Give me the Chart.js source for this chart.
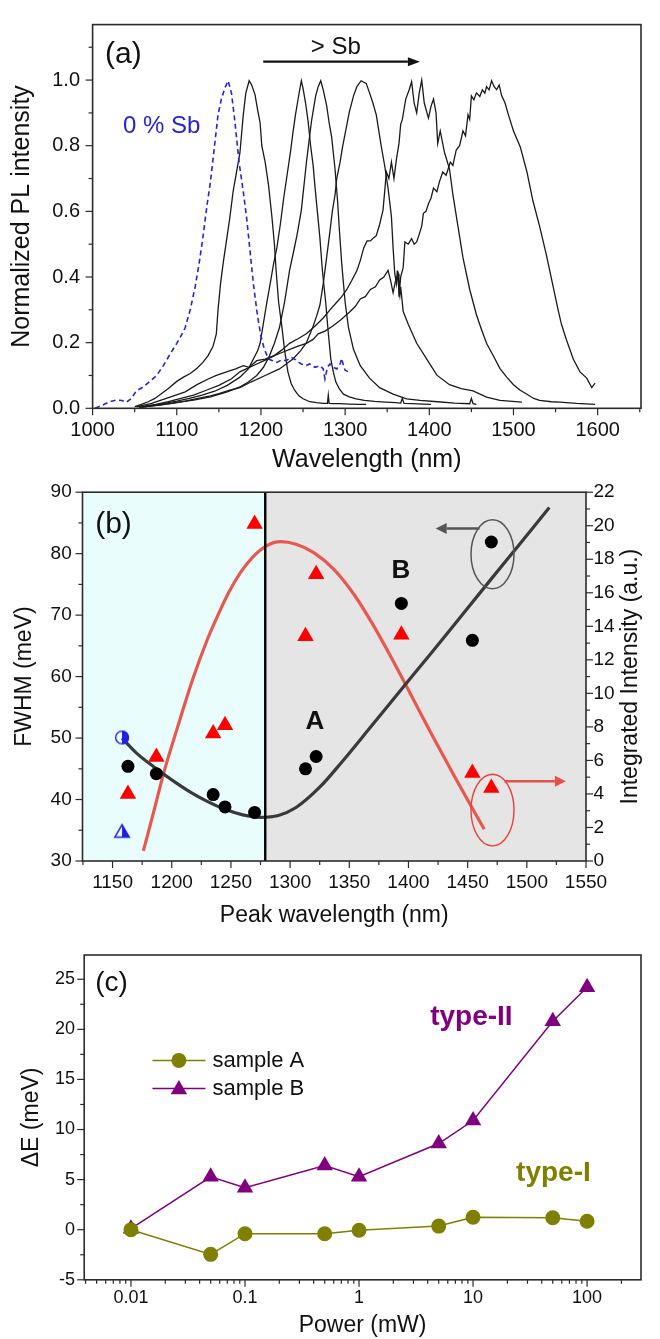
<!DOCTYPE html>
<html><head><meta charset="utf-8">
<script src="https://cdn.jsdelivr.net/npm/chart.js@4.4.1/dist/chart.umd.min.js"></script>
<style>
html,body{margin:0;padding:0;background:#fff;}
#wrap{position:relative;width:660px;height:1339px;overflow:hidden;background:#fff;}
canvas{position:absolute;left:0;}
</style></head><body>
<div id="wrap">
<canvas id="ca" width="660" height="478" style="top:0px"></canvas>
<canvas id="cb" width="660" height="465" style="top:470px"></canvas>
<canvas id="cc" width="660" height="404" style="top:935px"></canvas>
</div>
<script>
// ---------------- Panel (a) data: normalized PL spectra ----------------
const sb0Wl = [1003,1012,1020,1028,1035,1040,1046,1052,1060,1068,1076,1084,1092,1100,1106,1110,1116,1122,1127,1131,1136,1140,1144,1149,1153,1157,1161,1165,1169,1174,1179,1183,1187,1191,1196,1200,1204,1209,1214,1219,1225,1230,1236,1240,1245,1248,1253,1258,1264,1270,1274,1276,1279,1282,1286,1290,1294,1296,1298,1300,1304];
const sb0I  = [0,0.01,0.02,0.025,0.024,0.018,0.03,0.053,0.065,0.082,0.1,0.13,0.165,0.198,0.225,0.246,0.30,0.372,0.449,0.52,0.62,0.69,0.78,0.894,0.942,0.975,0.998,0.96,0.874,0.75,0.66,0.58,0.48,0.38,0.28,0.22,0.18,0.15,0.145,0.14,0.148,0.145,0.155,0.15,0.14,0.135,0.13,0.135,0.125,0.13,0.12,0.09,0.125,0.135,0.125,0.12,0.135,0.152,0.13,0.116,0.111];

const pl1187Wl = [1050,1058,1066,1074,1082,1090,1100,1108,1116,1124,1131,1137,1143,1147,1149,1152,1155,1159,1163,1167,1171,1175,1179,1182,1186,1189,1193,1196,1199,1201,1205,1209,1213,1216,1218,1221,1225,1228,1232,1236,1240,1245,1250,1258,1266,1274,1279,1280,1281,1286,1294,1305,1315,1325];
const pl1187I  = [0.005,0.012,0.02,0.03,0.045,0.06,0.082,0.095,0.106,0.122,0.14,0.16,0.188,0.227,0.30,0.38,0.44,0.51,0.58,0.662,0.72,0.778,0.894,0.96,0.998,0.985,0.955,0.91,0.87,0.80,0.75,0.68,0.584,0.5,0.42,0.323,0.246,0.179,0.111,0.075,0.055,0.038,0.029,0.02,0.017,0.015,0.015,0.04,0.015,0.014,0.014,0.013,0.012,0.012];

const pl1248Wl = [1058,1070,1085,1100,1115,1130,1145,1160,1175,1185,1191,1196,1199,1203,1207,1211,1215,1219,1223,1227,1231,1235,1238,1241,1244,1246,1248,1250,1253,1256,1259,1262,1264,1267,1270,1273,1277,1280,1283,1286,1289,1293,1298,1305,1313,1323,1335,1348,1360,1366,1368,1370,1380,1392,1402];
const pl1248I  = [0.003,0.008,0.015,0.022,0.03,0.04,0.052,0.07,0.095,0.12,0.15,0.175,0.198,0.26,0.323,0.38,0.44,0.49,0.56,0.64,0.71,0.78,0.84,0.894,0.94,0.97,0.998,0.975,0.93,0.875,0.8,0.74,0.68,0.6,0.52,0.42,0.32,0.23,0.15,0.11,0.08,0.06,0.043,0.035,0.029,0.024,0.021,0.019,0.017,0.016,0.03,0.015,0.014,0.013,0.012];

const pl1271Wl = [1055,1080,1100,1120,1140,1160,1175,1185,1195,1203,1210,1216,1222,1228,1234,1239,1243,1248,1254,1260,1265,1268,1271,1274,1278,1281,1284,1288,1291,1293,1296,1300,1304,1310,1318,1329,1341,1357,1373,1389,1410,1430,1448,1450,1452,1456];
const pl1271I  = [0.003,0.01,0.018,0.025,0.035,0.05,0.065,0.08,0.1,0.125,0.159,0.198,0.246,0.323,0.42,0.48,0.53,0.604,0.749,0.874,0.952,0.98,0.998,0.97,0.923,0.87,0.826,0.729,0.633,0.55,0.44,0.323,0.246,0.179,0.13,0.092,0.063,0.043,0.029,0.024,0.02,0.016,0.014,0.03,0.014,0.012];

const pl1319Wl = [1058,1075,1095,1110,1125,1140,1150,1163,1175,1188,1205,1222,1238,1247,1254,1262,1266,1270,1274,1278,1282,1285,1288,1290,1294,1297,1301,1305,1310,1314,1319,1325,1329,1333,1337,1343,1347,1351,1355,1357,1359,1361,1362,1364,1365,1366,1369,1375,1385,1397,1409,1424,1438,1452,1468,1484,1510];
const pl1319I  = [0.004,0.009,0.015,0.022,0.03,0.038,0.045,0.055,0.063,0.08,0.1,0.12,0.15,0.175,0.2,0.25,0.28,0.314,0.38,0.459,0.54,0.604,0.65,0.70,0.75,0.797,0.85,0.903,0.952,0.98,0.998,0.99,0.961,0.93,0.894,0.797,0.739,0.671,0.584,0.488,0.41,0.38,0.42,0.36,0.343,0.37,0.295,0.256,0.198,0.15,0.101,0.072,0.06,0.053,0.034,0.024,0.019];

const pl1390Wl = [1055,1075,1090,1105,1120,1135,1150,1165,1175,1185,1195,1205,1215,1225,1234,1244,1254,1264,1274,1282,1290,1296,1302,1308,1314,1318,1322,1326,1330,1334,1337,1341,1345,1347,1349,1352,1355,1358,1361,1364,1366,1368,1372,1376,1379,1382,1385,1388,1391,1394,1399,1402,1405,1408,1410,1413,1418,1424,1428,1434,1440,1448,1456,1462,1468,1476,1484,1492,1500,1508,1516,1524,1531,1545,1555,1575,1597];
const pl1390I  = [0.004,0.012,0.02,0.03,0.04,0.055,0.07,0.09,0.111,0.123,0.135,0.147,0.159,0.178,0.198,0.212,0.227,0.25,0.275,0.3,0.323,0.34,0.362,0.39,0.42,0.45,0.488,0.51,0.51,0.52,0.526,0.56,0.604,0.66,0.72,0.7,0.75,0.7,0.76,0.807,0.865,0.88,0.942,0.97,0.995,0.93,0.9,0.96,1.0,0.93,0.884,0.92,0.942,0.9,0.807,0.845,0.78,0.729,0.652,0.555,0.459,0.362,0.285,0.24,0.198,0.16,0.121,0.095,0.072,0.055,0.043,0.03,0.024,0.02,0.019,0.015,0.012];

const pl1472Wl = [1052,1070,1092,1110,1124,1138,1147,1160,1170,1179,1186,1195,1205,1215,1225,1235,1245,1254,1262,1268,1276,1285,1295,1306,1312,1318,1324,1330,1336,1341,1346,1351,1354,1357,1360,1363,1364,1366,1369,1371,1375,1379,1382,1385,1388,1391,1393,1396,1399,1402,1405,1409,1412,1416,1420,1425,1428,1432,1436,1440,1443,1446,1448,1450,1453,1456,1460,1463,1466,1468,1471,1474,1477,1480,1483,1486,1490,1494,1500,1508,1516,1523,1531,1539,1547,1553,1557,1563,1571,1579,1587,1593,1597];
const pl1472I  = [0.004,0.015,0.034,0.05,0.072,0.09,0.1,0.112,0.12,0.13,0.125,0.145,0.15,0.16,0.17,0.18,0.19,0.198,0.21,0.227,0.235,0.25,0.27,0.295,0.31,0.333,0.34,0.362,0.37,0.391,0.4,0.42,0.39,0.352,0.39,0.41,0.34,0.4,0.43,0.507,0.5,0.517,0.5,0.507,0.53,0.555,0.594,0.6,0.623,0.64,0.671,0.66,0.69,0.72,0.71,0.75,0.74,0.787,0.8,0.845,0.83,0.894,0.88,0.952,0.94,0.961,0.95,0.97,0.96,0.98,0.97,0.998,0.98,0.971,0.985,0.952,0.93,0.894,0.845,0.797,0.72,0.633,0.555,0.468,0.372,0.3,0.256,0.208,0.15,0.111,0.092,0.063,0.077];

const aXMajor = [1000,1100,1200,1300,1400,1500,1600];
const aXLabels = ['1000','1100','1200','1300','1400','1500','1600'];
const aXMinor = [1050,1150,1250,1350,1450,1550,1650];
const aYMajor = [0,0.2,0.4,0.6,0.8,1.0];
const aYLabels = ['0.0','0.2','0.4','0.6','0.8','1.0'];
const aYMinor = [0.1,0.3,0.5,0.7,0.9,1.1];

// ---------------- Panel (b) data ----------------
const bPeakWl   = [1163,1187,1235,1245,1270,1313,1322,1394,1454,1470];
const bFwhm     = [45.4,44.2,40.8,38.8,37.9,45.0,47.0,71.9,65.9,81.9];
const bIntensity= [4.0,6.2,7.6,8.1,20.1,13.4,17.1,13.5,5.25,4.35];
const bRefWl    = [1158];
const bRefFwhm  = [50.1];
const bRefInt   = [1.75];
const bFitFwhmWl = [1158,1170,1185,1200,1215,1230,1245,1260,1275,1290,1305,1325,1345,1368,1396,1420,1446,1470,1492,1519];
const bFitFwhm   = [50.0,47.6,45.3,43.2,41.3,39.7,38.4,37.5,37.1,37.4,38.7,42.0,46.4,51.8,58.4,64.0,70.2,75.9,81.1,87.5];
const bFitIntWl  = [1176,1185,1193,1205,1218,1230,1238,1248,1258,1268,1280,1292,1305,1320,1337,1354,1370,1385,1400,1420,1440,1464];
const bFitInt    = [0.6,3.0,5.2,8.0,10.9,13.2,14.5,16.0,17.2,18.1,18.8,19.05,18.9,18.4,17.4,15.9,14.1,12.2,10.2,7.5,4.9,1.9];
const bDivideWl = 1279;

const bXMajor = [1150,1200,1250,1300,1350,1400,1450,1500,1550];
const bXLabels = ['1150','1200','1250','1300','1350','1400','1450','1500','1550'];
const bXMinor = [1125,1175,1225,1275,1325,1375,1425,1475,1525];
const bYMajor = [30,40,50,60,70,80,90];
const bYLabels = ['30','40','50','60','70','80','90'];
const bYMinor = [35,45,55,65,75,85];
const bY2Major = [0,2,4,6,8,10,12,14,16,18,20,22];
const bY2Labels = ['0','2','4','6','8','10','12','14','16','18','20','22'];
const bY2Minor = [1,3,5,7,9,11,13,15,17,19,21];

// ---------------- Panel (c) data ----------------
const cPower   = [0.01,0.05,0.1,0.5,1,5,10,50,100];
const cSampleA = [0,-2.46,-0.4,-0.4,-0.05,0.36,1.25,1.2,0.85];
const cSampleB = [0.1,5.28,4.19,6.4,5.28,8.6,10.9,20.8,24.2];

const cXMajor = [0.01,0.1,1,10,100];
const cXLabels = ['0.01','0.1','1','10','100'];
const cXDecades = [0.001,0.01,0.1,1,10,100];
const cXMult = [2,3,4,5,6,7,8,9];
const cYMajor = [-5,0,5,10,15,20,25];
const cYLabels = ['-5','0','5','10','15','20','25'];
const cYMinor = [-2.5,2.5,7.5,12.5,17.5,22.5];

// ---------------- helpers ----------------
const FONT = "'Liberation Sans', Arial, Helvetica, sans-serif";
Chart.defaults.font.family = FONT;
Chart.defaults.color = '#111';

function zip(xs, ys){ return xs.map((x,i)=>({x:x, y:ys[i]})); }
function tickSet(majors, labels, minors){
  return function(scale){
    const t = [];
    majors.forEach((v,i)=>t.push({value:v, major:true, txt:labels[i]}));
    minors.forEach(v=>t.push({value:v, major:false, txt:''}));
    t.sort((a,b)=>a.value-b.value);
    scale.ticks = t;
  };
}
function tickLabel(v, i, ticks){ return (ticks[i] && ticks[i].txt) ? ticks[i].txt : ''; }
function axis(o){
  return {
    type: o.type || 'linear',
    position: o.position,
    min: o.min, max: o.max,
    grid: {display:false, drawTicks:false, drawOnChartArea:false},
    border: {display:false},
    ticks: {autoSkip:false, maxRotation:0, minRotation:0, padding:o.pad, font:{size:o.tickSize}, color:'#111', callback: tickLabel},
    title: o.title ? {display:true, text:o.title, font:{size:o.titleSize}, color:'#111', padding:o.titlePad} : {display:false},
    afterBuildTicks: tickSet(o.majors, o.labels, o.minors),
    afterFit: o.fit
  };
}
const frameTicks = {
  id:'frameTicks',
  afterDraw(chart){
    const ctx = chart.ctx, a = chart.chartArea;
    ctx.save();
    ctx.strokeStyle = '#2b2b2b';
    ctx.lineWidth = 1.2;
    for (const s of Object.values(chart.scales)) {
      for (const t of s.ticks) {
        const p = s.getPixelForValue(t.value);
        const len = t.major ? 7 : 4;
        if (s.isHorizontal()) {
          if (p < a.left - 1 || p > a.right + 1) continue;
          ctx.beginPath(); ctx.moveTo(p, a.bottom); ctx.lineTo(p, a.bottom + len); ctx.stroke();
        } else {
          if (p < a.top - 1 || p > a.bottom + 1) continue;
          ctx.beginPath();
          if (s.position === 'left') { ctx.moveTo(a.left, p); ctx.lineTo(a.left - len, p); }
          else { ctx.moveTo(a.right, p); ctx.lineTo(a.right + len, p); }
          ctx.stroke();
        }
      }
    }
    ctx.lineWidth = 1.6;
    ctx.strokeRect(a.left, a.top, a.right - a.left, a.bottom - a.top);
    ctx.restore();
  }
};
function drawArrow(ctx, x1, y1, x2, y2, color, w, hl, hw){
  const ang = Math.atan2(y2-y1, x2-x1);
  const bx = x2 - Math.cos(ang)*hl, by = y2 - Math.sin(ang)*hl;
  ctx.save();
  ctx.strokeStyle = color; ctx.fillStyle = color; ctx.lineWidth = w;
  ctx.beginPath(); ctx.moveTo(x1, y1); ctx.lineTo(bx, by); ctx.stroke();
  ctx.beginPath();
  ctx.moveTo(x2, y2);
  ctx.lineTo(bx + Math.sin(ang)*hw, by - Math.cos(ang)*hw);
  ctx.lineTo(bx - Math.sin(ang)*hw, by + Math.cos(ang)*hw);
  ctx.closePath(); ctx.fill();
  ctx.restore();
}
function triPath(ctx, cx, cy, r){
  ctx.beginPath();
  ctx.moveTo(cx, cy - r);
  ctx.lineTo(cx + r*0.866, cy + r/2);
  ctx.lineTo(cx - r*0.866, cy + r/2);
  ctx.closePath();
}
function halfCircleImg(r, color){
  const c = document.createElement('canvas'); const s = Math.ceil(2*r + 4);
  c.width = s; c.height = s; const g = c.getContext('2d'); const m = s/2;
  g.fillStyle = color; g.strokeStyle = color; g.lineWidth = 1.4;
  g.beginPath(); g.moveTo(m, m - r); g.arc(m, m, r, -Math.PI/2, Math.PI/2); g.closePath(); g.fill();
  g.beginPath(); g.arc(m, m, r - 0.6, 0, 2*Math.PI); g.stroke();
  return c;
}
function halfTriImg(r, color){
  const c = document.createElement('canvas'); const s = Math.ceil(2*r + 4);
  c.width = s; c.height = s; const g = c.getContext('2d'); const m = s/2; const cy = m + r*0.15;
  g.fillStyle = color; g.strokeStyle = color; g.lineWidth = 1.5;
  g.beginPath(); g.moveTo(m, cy - r); g.lineTo(m + r*0.866, cy + r/2); g.lineTo(m, cy + r/2); g.closePath(); g.fill();
  triPath(g, m, cy, r - 0.7); g.stroke();
  return c;
}

// ---------------- Panel (a) ----------------
const blackLine = (wl, I) => ({data: zip(wl, I), showLine:true, borderColor:'#1a1a1a', borderWidth:1.3, pointRadius:0, tension:0});
const annA = {
  id:'annA',
  afterDatasetsDraw(chart){
    const {ctx, scales:{x, y}} = chart;
    ctx.save();
    ctx.textAlign = 'center'; ctx.textBaseline = 'middle';
    ctx.fillStyle = '#111';
    ctx.font = '30px ' + FONT;
    ctx.fillText('(a)', x.getPixelForValue(1036.5), y.getPixelForValue(1.077));
    ctx.font = '24px ' + FONT;
    ctx.fillText('> Sb', x.getPixelForValue(1289), y.getPixelForValue(1.101));
    const ay = y.getPixelForValue(1.056);
    drawArrow(ctx, x.getPixelForValue(1202.7), ay, x.getPixelForValue(1388.8), ay, '#111', 2.2, 12, 4.5);
    ctx.fillStyle = '#2424dc';
    ctx.fillText('0 % Sb', x.getPixelForValue(1082), y.getPixelForValue(0.86));
    ctx.restore();
  }
};
new Chart(document.getElementById('ca'), {
  type:'scatter',
  data:{datasets:[
    {label:'0 % Sb', data: zip(sb0Wl, sb0I), showLine:true, borderColor:'#2424dc', borderWidth:1.6, borderDash:[5,3.5], pointRadius:0, tension:0},
    blackLine(pl1187Wl, pl1187I),
    blackLine(pl1248Wl, pl1248I),
    blackLine(pl1271Wl, pl1271I),
    blackLine(pl1319Wl, pl1319I),
    blackLine(pl1390Wl, pl1390I),
    blackLine(pl1472Wl, pl1472I)
  ]},
  options:{
    responsive:false, animation:false, events:[],
    layout:{padding:{top:5, right:19, left:0, bottom:0}},
    plugins:{legend:{display:false}, tooltip:{enabled:false}},
    scales:{
      x: axis({position:'bottom', min:1000, max:1651.5, pad:9.7, tickSize:20, title:'Wavelength (nm)', titleSize:25, titlePad:{top:0, bottom:3}, majors:aXMajor, labels:aXLabels, minors:aXMinor, fit:(s)=>{s.height = 69.7;}}),
      y: axis({position:'left', min:0, max:1.169, pad:12.6, tickSize:20, title:'Normalized PL intensity', titleSize:25, titlePad:{top:7, bottom:0}, majors:aYMajor, labels:aYLabels, minors:aYMinor, fit:(s)=>{s.width = 92.6;}})
    }
  },
  plugins:[frameTicks, annA]
});

// ---------------- Panel (b) ----------------
const bgB = {
  id:'bgB',
  beforeDatasetsDraw(chart){
    const {ctx, chartArea:a, scales:{x}} = chart;
    const xs = x.getPixelForValue(bDivideWl);
    ctx.save();
    ctx.fillStyle = '#e9fdfd'; ctx.fillRect(a.left, a.top, xs - a.left, a.bottom - a.top);
    ctx.fillStyle = '#e5e5e5'; ctx.fillRect(xs, a.top, a.right - xs, a.bottom - a.top);
    ctx.restore();
  },
  afterDatasetsDraw(chart){
    const {ctx, chartArea:a, scales:{x, y, y2}} = chart;
    const xs = x.getPixelForValue(bDivideWl);
    ctx.save();
    ctx.strokeStyle = '#000'; ctx.lineWidth = 2.4;
    ctx.beginPath(); ctx.moveTo(xs, a.top); ctx.lineTo(xs, a.bottom); ctx.stroke();
    ctx.textAlign = 'center'; ctx.textBaseline = 'middle'; ctx.fillStyle = '#111';
    ctx.font = '30px ' + FONT;
    ctx.fillText('(b)', x.getPixelForValue(1150.8), y.getPixelForValue(84.7));
    ctx.font = 'bold 26px ' + FONT;
    ctx.fillText('A', x.getPixelForValue(1321), y.getPixelForValue(52.7));
    ctx.fillText('B', x.getPixelForValue(1393.5), y.getPixelForValue(77.2));
    ctx.strokeStyle = '#555'; ctx.lineWidth = 1.5;
    ctx.beginPath(); ctx.ellipse(x.getPixelForValue(1471), y.getPixelForValue(79.9), 21.5, 34.5, 0, 0, 2*Math.PI); ctx.stroke();
    const gy = y.getPixelForValue(84.1);
    drawArrow(ctx, x.getPixelForValue(1460), gy, x.getPixelForValue(1423), gy, '#555', 2.4, 11, 5.5);
    ctx.strokeStyle = '#e8403a'; ctx.lineWidth = 1.4;
    ctx.beginPath(); ctx.ellipse(x.getPixelForValue(1471), y2.getPixelForValue(3.04), 21.5, 35.8, 0, 0, 2*Math.PI); ctx.stroke();
    const ry = y2.getPixelForValue(4.76);
    drawArrow(ctx, x.getPixelForValue(1481), ry, x.getPixelForValue(1533), ry, '#e8504a', 2.4, 11, 5.5);
    ctx.save();
    ctx.translate(631, (a.top + a.bottom)/2);
    ctx.rotate(-Math.PI/2);
    ctx.fillStyle = '#111'; ctx.font = '23px ' + FONT;
    ctx.fillText('Integrated Intensity (a.u.)', 0, 0);
    ctx.restore();
    ctx.restore();
  }
};
new Chart(document.getElementById('cb'), {
  type:'scatter',
  data:{datasets:[
    {label:'FWHM', data: zip(bPeakWl, bFwhm), yAxisID:'y', pointRadius:6.5, pointStyle:'circle', backgroundColor:'#000', borderColor:'#000', borderWidth:0, order:1},
    {label:'Integrated Intensity', data: zip(bPeakWl, bIntensity), yAxisID:'y2', pointRadius:9.5, pointStyle:'triangle', backgroundColor:'#ff0000', borderColor:'#ff0000', borderWidth:0, order:1},
    {label:'FWHM 0% Sb', data: zip(bRefWl, bRefFwhm), yAxisID:'y', pointRadius:7, pointStyle: halfCircleImg(7, '#1f1fe6'), order:1},
    {label:'Intensity 0% Sb', data: zip(bRefWl, bRefInt), yAxisID:'y2', pointRadius:9, pointStyle: halfTriImg(9, '#1f1fe6'), order:1},
    {label:'FWHM fit', data: zip(bFitFwhmWl, bFitFwhm), yAxisID:'y', showLine:true, borderColor:'#3a3a3a', borderWidth:3.2, pointRadius:0, tension:0.4, cubicInterpolationMode:'monotone', order:3},
    {label:'Intensity fit', data: zip(bFitIntWl, bFitInt), yAxisID:'y2', showLine:true, borderColor:'#e8584f', borderWidth:3.2, pointRadius:0, tension:0.4, cubicInterpolationMode:'monotone', order:3}
  ]},
  options:{
    responsive:false, animation:false, events:[],
    layout:{padding:{top:21, right:0, left:0, bottom:0}},
    plugins:{legend:{display:false}, tooltip:{enabled:false}},
    scales:{
      x: axis({position:'bottom', min:1124.6, max:1550, pad:10, tickSize:19, title:'Peak wavelength (nm)', titleSize:23, titlePad:{top:0, bottom:5.6}, majors:bXMajor, labels:bXLabels, minors:bXMinor, fit:(s)=>{s.height = 74;}}),
      y: axis({position:'left', min:30, max:90, pad:10.8, tickSize:19, title:'FWHM (meV)', titleSize:23, titlePad:{top:11.2, bottom:0}, majors:bYMajor, labels:bYLabels, minors:bYMinor, fit:(s)=>{s.width = 82.5;}}),
      y2: axis({position:'right', min:0, max:22, pad:7.4, tickSize:19, majors:bY2Major, labels:bY2Labels, minors:bY2Minor, fit:(s)=>{s.width = 74;}})
    }
  },
  plugins:[bgB, frameTicks]
});

// ---------------- Panel (c) ----------------
const cXMinor = [];
cXDecades.forEach(d => cXMult.forEach(m => { const v = d*m; if (v > 0.00389 && v < 297) cXMinor.push(v); }));
const OLIVE = '#808000', PURPLE = '#800080';
const annC = {
  id:'annC',
  afterDatasetsDraw(chart){
    const {ctx, chartArea:a, scales:{x, y}} = chart;
    ctx.save();
    ctx.textAlign = 'center'; ctx.textBaseline = 'middle';
    ctx.fillStyle = '#111'; ctx.font = '28px ' + FONT;
    ctx.fillText('(c)', x.getPixelForValue(0.00676), y.getPixelForValue(24.6));
    ctx.font = 'bold 28px ' + FONT;
    ctx.fillStyle = PURPLE; ctx.fillText('type-II', x.getPixelForValue(9.67), y.getPixelForValue(21.2));
    ctx.fillStyle = OLIVE; ctx.fillText('type-I', x.getPixelForValue(50.7), y.getPixelForValue(5.68));
    const lx1 = a.left + 68.2, lx2 = a.left + 121.2, lm = (lx1 + lx2)/2;
    const ly1 = a.top + 105.4, ly2 = a.top + 133.4;
    const items = chart.data.datasets;
    ctx.lineWidth = 1.5;
    ctx.strokeStyle = OLIVE; ctx.beginPath(); ctx.moveTo(lx1, ly1); ctx.lineTo(lx2, ly1); ctx.stroke();
    ctx.fillStyle = OLIVE; ctx.beginPath(); ctx.arc(lm, ly1, 7.5, 0, 2*Math.PI); ctx.fill();
    ctx.strokeStyle = PURPLE; ctx.beginPath(); ctx.moveTo(lx1, ly2); ctx.lineTo(lx2, ly2); ctx.stroke();
    ctx.fillStyle = PURPLE; triPath(ctx, lm, ly2 + 1, 9.5); ctx.fill();
    ctx.fillStyle = '#111'; ctx.font = '22px ' + FONT; ctx.textAlign = 'left';
    ctx.fillText(items[0].label, a.left + 128.3, ly1 + 1);
    ctx.fillText(items[1].label, a.left + 128.3, ly2 + 1);
    ctx.restore();
  }
};
new Chart(document.getElementById('cc'), {
  type:'scatter',
  data:{datasets:[
    {label:'sample A', data: zip(cPower, cSampleA), showLine:true, borderColor:OLIVE, backgroundColor:OLIVE, borderWidth:1.5, pointRadius:7.5, pointStyle:'circle', pointBorderWidth:0, tension:0},
    {label:'sample B', data: zip(cPower, cSampleB), showLine:true, borderColor:PURPLE, backgroundColor:PURPLE, borderWidth:1.5, pointRadius:9.5, pointStyle:'triangle', pointBorderWidth:0, tension:0}
  ]},
  options:{
    responsive:false, animation:false, events:[],
    layout:{padding:{top:11.6, right:19, left:0, bottom:0}},
    plugins:{legend:{display:false}, tooltip:{enabled:false}},
    scales:{
      x: axis({type:'logarithmic', position:'bottom', min:0.00389, max:297, pad:7.8, tickSize:18, title:'Power (mW)', titleSize:23, titlePad:{top:0, bottom:0}, majors:cXMajor, labels:cXLabels, minors:cXMinor, fit:(s)=>{s.height = 59.2;}}),
      y: axis({position:'left', min:-5, max:27.42, pad:9.2, tickSize:18, title:'\u0394E (meV)', titleSize:23, titlePad:{top:17.8, bottom:0}, majors:cYMajor, labels:cYLabels, minors:cYMinor, fit:(s)=>{s.width = 84.2;}})
    }
  },
  plugins:[frameTicks, annC]
});
</script>
</body></html>
